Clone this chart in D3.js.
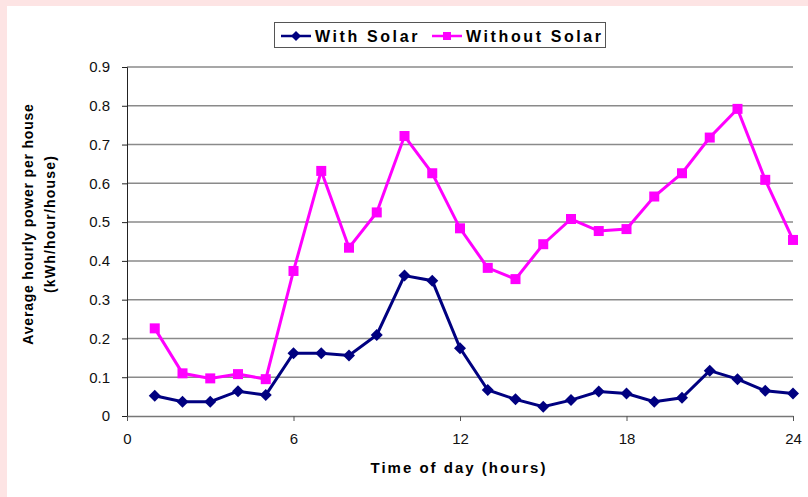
<!DOCTYPE html>
<html>
<head>
<meta charset="utf-8">
<script src="https://cdn.jsdelivr.net/npm/d3@7"></script>
<style>
  body { margin: 0; background: #fde4e4; }
  svg { display: block; }
</style>
</head>
<body>
<svg id="chart"></svg>
<script>
var hours = [1,2,3,4,5,6,7,8,9,10,11,12,13,14,15,16,17,18,19,20,21,22,23,24];
var withSolar = [0.052,0.037,0.037,0.064,0.054,0.162,0.162,0.156,0.209,0.362,0.349,0.175,
                 0.067,0.043,0.024,0.041,0.063,0.058,0.037,0.047,0.117,0.095,0.065,0.058];
var withoutSolar = [0.226,0.110,0.097,0.108,0.095,0.374,0.632,0.434,0.525,0.722,0.626,0.484,
                    0.382,0.353,0.443,0.508,0.477,0.482,0.566,0.626,0.718,0.792,0.609,0.454];
var xTicks = [0,6,12,18,24];
var yTicks = [0,0.1,0.2,0.3,0.4,0.5,0.6,0.7,0.8,0.9];
var seriesNames = ["With Solar", "Without Solar"];

var w = 808, h = 497;
var blue = "#000080", pink = "#ff00ff";
var font = 'Liberation Sans, Arial, sans-serif';

var svg = d3.select('#chart').attr('width', w).attr('height', h);

// white panel
svg.append('rect').attr('x', 7).attr('y', 6).attr('width', w - 7).attr('height', h - 6).attr('fill', '#fff');

var x = d3.scaleLinear().domain([0, 24]).range([127, 793]);
var y = d3.scaleLinear().domain([0, 0.9]).range([416, 67]);

// wide diamond marker
function diamondPath(hw, hh) {
  return 'M0,' + (-hh) + 'L' + hw + ',0L0,' + hh + 'L' + (-hw) + ',0Z';
}

// gridlines
svg.append('g').selectAll('line')
  .data(yTicks.slice(1))
  .join('line')
  .attr('x1', x(0)).attr('x2', x(24))
  .attr('y1', function(d){ return y(d); }).attr('y2', function(d){ return y(d); })
  .attr('stroke', '#8a8a8a').attr('stroke-width', 1.5);

// y axis
var yAxis = svg.append('g')
  .attr('transform', 'translate(' + x(0) + ',0)')
  .call(d3.axisLeft(y).tickValues(yTicks).tickSize(5).tickPadding(12)
    .tickFormat(function(d){ return d === 0 ? '0' : d3.format('.1f')(d); }));
yAxis.select('.domain').attr('stroke', '#222');
yAxis.selectAll('line').attr('stroke', '#222');
yAxis.selectAll('text').attr('font-family', font).attr('font-size', '15px').attr('fill', '#111');

// x axis
var xAxis = svg.append('g')
  .attr('transform', 'translate(0,' + y(0) + ')')
  .call(d3.axisBottom(x).tickValues(xTicks).tickSize(5).tickPadding(12).tickSizeOuter(0));
xAxis.select('.domain').attr('stroke', '#777').attr('stroke-width', 1.5);
xAxis.selectAll('line').attr('stroke', '#555');
xAxis.selectAll('text').attr('font-family', font).attr('font-size', '15px').attr('fill', '#111');

var line = d3.line()
  .x(function(d, i){ return x(hours[i]); })
  .y(function(d){ return y(d); });

// without solar
svg.append('path').datum(withoutSolar)
  .attr('d', line).attr('fill', 'none').attr('stroke', pink).attr('stroke-width', 3);
svg.append('g').selectAll('rect')
  .data(withoutSolar)
  .join('rect')
  .attr('x', function(d, i){ return x(hours[i]) - 5; })
  .attr('y', function(d){ return y(d) - 5; })
  .attr('width', 10).attr('height', 10)
  .attr('fill', pink);

// with solar
svg.append('path').datum(withSolar)
  .attr('d', line).attr('fill', 'none').attr('stroke', blue).attr('stroke-width', 3);
svg.append('g').selectAll('path')
  .data(withSolar)
  .join('path')
  .attr('d', diamondPath(6, 6))
  .attr('transform', function(d, i){ return 'translate(' + x(hours[i]) + ',' + y(d) + ')'; })
  .attr('fill', blue);

// axis titles
svg.append('text')
  .attr('x', 459).attr('y', 473)
  .attr('text-anchor', 'middle')
  .attr('font-family', font)
  .attr('font-size', '15px').attr('font-weight', 'bold')
  .attr('letter-spacing', '2px')
  .text('Time of day (hours)');

var yTitle = svg.append('text')
  .attr('transform', 'translate(0,224) rotate(-90)')
  .attr('text-anchor', 'middle')
  .attr('font-family', font)
  .attr('font-size', '14px').attr('font-weight', 'bold')
  .attr('letter-spacing', '0.8px');
yTitle.append('tspan').attr('x', 0).attr('y', 33).text('Average hourly power per house');
yTitle.append('tspan').attr('x', 0).attr('y', 55).attr('letter-spacing', '1.2px').text('(kWh/hour/house)');

// legend
var legend = svg.append('g');
legend.append('rect')
  .attr('x', 274.5).attr('y', 22.5).attr('width', 331).attr('height', 25)
  .attr('fill', '#fff').attr('stroke', '#555').attr('stroke-width', 1);

var legendItems = [
  { name: seriesNames[0], color: blue, x0: 281, marker: 'diamond' },
  { name: seriesNames[1], color: pink, x0: 432, marker: 'square' }
];
legendItems.forEach(function(item){
  legend.append('line')
    .attr('x1', item.x0).attr('x2', item.x0 + 30)
    .attr('y1', 36).attr('y2', 36)
    .attr('stroke', item.color).attr('stroke-width', 2.5);
  if (item.marker === 'diamond') {
    legend.append('path').attr('d', diamondPath(5, 5))
      .attr('transform', 'translate(' + (item.x0 + 15) + ',36)').attr('fill', item.color);
  } else {
    legend.append('rect').attr('x', item.x0 + 11).attr('y', 32).attr('width', 8).attr('height', 8)
      .attr('fill', item.color);
  }
  legend.append('text')
    .attr('x', item.x0 + 34).attr('y', 41.5)
    .attr('font-family', font)
    .attr('font-size', '16px').attr('font-weight', 'bold')
    .attr('letter-spacing', '2.6px')
    .text(item.name);
});
</script>
</body>
</html>
